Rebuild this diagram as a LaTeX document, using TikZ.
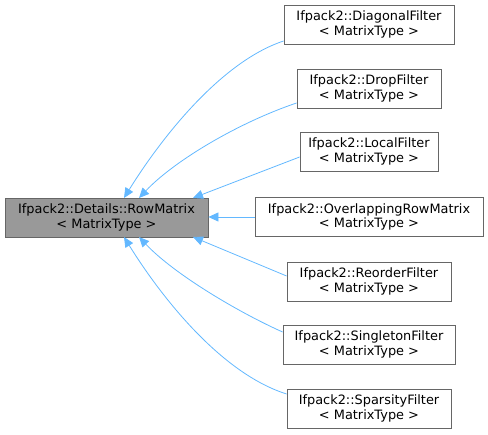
\documentclass[tikz,border=0pt]{standalone}
\usepackage{fontspec}
\setmainfont{DejaVu Sans}
\usetikzlibrary{arrows.meta}
\definecolor{edgeblue}{RGB}{99,184,255}
\definecolor{boxgray}{RGB}{102,102,102}
\definecolor{basefill}{RGB}{153,153,153}
\begin{document}
\begin{tikzpicture}[x=1pt,y=-1pt,
  cls/.style={draw=boxgray, fill=white, line width=0.8pt, align=center, inner sep=0pt, minimum height=39pt, font=\fontsize{12.9}{14.5}\selectfont},
  base/.style={cls, fill=basefill},
  inh/.style={draw=edgeblue, line width=0.8pt, -{Triangle[length=10pt,width=9pt]}}]
\useasboundingbox (0,0) rectangle (488,435);
\node[base, minimum width=203pt] (b) at (106.5,217.5) {Ifpack2::Details::RowMatrix\\< MatrixType >};
\node[cls, minimum width=170pt] (c1) at (369,24.5) {Ifpack2::DiagonalFilter\\< MatrixType >};
\node[cls, minimum width=144pt] (c2) at (369,88.5) {Ifpack2::DropFilter\\< MatrixType >};
\node[cls, minimum width=138pt] (c3) at (369,151.5) {Ifpack2::LocalFilter\\< MatrixType >};
\node[cls, minimum width=228pt] (c4) at (369,217) {Ifpack2::OverlappingRowMatrix\\< MatrixType >};
\node[cls, minimum width=164pt] (c5) at (369,281.5) {Ifpack2::ReorderFilter\\< MatrixType >};
\node[cls, minimum width=172pt] (c6) at (369,344.5) {Ifpack2::SingletonFilter\\< MatrixType >};
\node[cls, minimum width=164pt] (c7) at (369,408.5) {Ifpack2::SparsityFilter\\< MatrixType >};
\coordinate (t1) at (124,198);
\coordinate (t2) at (139,198);
\coordinate (t3) at (193,198);
\coordinate (t5) at (193,237);
\coordinate (t6) at (139,237);
\coordinate (t7) at (124,237);
\draw[inh] (c1.west |- 0,41) .. controls (220,62) and (160,140) .. (t1);
\draw[inh] (c2.west |- 0,103) .. controls (240,122) and (175,160) .. (t2);
\draw[inh] (c3.west |- 0,157) -- (t3);
\draw[inh] (c4.west) -- (b.east |- c4.west);
\draw[inh] (c5.west |- 0,276) -- (t5);
\draw[inh] (c6.west |- 0,332) .. controls (240,313) and (175,275) .. (t6);
\draw[inh] (c7.west |- 0,394) .. controls (220,373) and (160,295) .. (t7);
\end{tikzpicture}
\end{document}
